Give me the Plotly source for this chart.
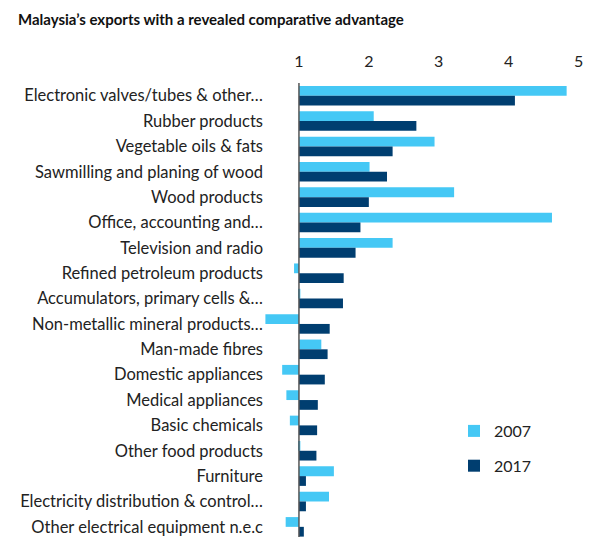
import plotly.graph_objects as go

categories = [
    "Electronic valves/tubes & other…",
    "Rubber products",
    "Vegetable oils & fats",
    "Sawmilling and planing of wood",
    "Wood products",
    "Office, accounting and…",
    "Television and radio",
    "Refined petroleum products",
    "Accumulators, primary cells &…",
    "Non-metallic mineral products…",
    "Man-made fibres",
    "Domestic appliances",
    "Medical appliances",
    "Basic chemicals",
    "Other food products",
    "Furniture",
    "Electricity distribution & control…",
    "Other electrical equipment n.e.c",
]
rca_2007 = [4.83, 2.07, 2.94, 2.01, 3.22, 4.62, 2.34, 0.93, 1.02, 0.52,
            1.32, 0.76, 0.82, 0.87, 1.02, 1.50, 1.43, 0.81]
rca_2017 = [4.09, 2.68, 2.34, 2.26, 2.00, 1.88, 1.81, 1.64, 1.63, 1.44,
            1.41, 1.37, 1.27, 1.26, 1.25, 1.10, 1.10, 1.07]
x_ticks = [1, 2, 3, 4, 5]
base_value = 1

C07 = "#45C8F5"
C17 = "#003E70"
FONT = "Lato"

fig = go.Figure()
fig.add_trace(go.Bar(
    y=categories, x=[v - base_value for v in rca_2007], base=base_value,
    orientation="h", name="2007", marker=dict(color=C07, line=dict(width=0)),
    legendgroup="a",
))
fig.add_trace(go.Bar(
    y=categories, x=[v - base_value for v in rca_2017], base=base_value,
    orientation="h", name="2017", marker=dict(color=C17, line=dict(width=0)),
    legendgroup="b",
))

fig.add_shape(type="line", x0=base_value, x1=base_value, xref="x",
              y0=0, y1=1.0, yref="paper",
              line=dict(color="#555555", width=1.5))

fig.update_layout(
    width=597, height=537,
    margin=dict(l=256, r=8.5, t=75, b=8, autoexpand=False),
    paper_bgcolor="white", plot_bgcolor="white",
    barmode="group", bargap=0.23, bargroupgap=0,
    font=dict(family=FONT, color="#222222"),
    title=dict(text="<b>Malaysia’s exports with a revealed comparative advantage</b>",
               x=10 / 597, xanchor="left", xref="container",
               y=1 - 12 / 537, yanchor="middle", pad=dict(l=0, r=0, t=0, b=0),
               font=dict(size=15, family=FONT, color="#111111")),
    xaxis=dict(side="top", range=[0.5, 5.25], tickvals=x_ticks,
               showgrid=False, zeroline=False, showline=False,
               ticks="", ticklabelstandoff=12, automargin=False,
               tickfont=dict(size=16, color="#222222")),
    yaxis=dict(range=[17.4, -0.5], showgrid=False, zeroline=False,
               showline=False, ticks="", automargin=False,
               tickfont=dict(size=16.5, color="#222222")),
    legend=dict(xref="container", yref="container",
                x=446 / 597, y=1 - 406 / 537, xanchor="left", yanchor="top",
                font=dict(size=16, color="#222222"), itemwidth=30,
                tracegroupgap=11, bgcolor="rgba(0,0,0,0)"),
    showlegend=True,
)

fig.write_html("out.html")
